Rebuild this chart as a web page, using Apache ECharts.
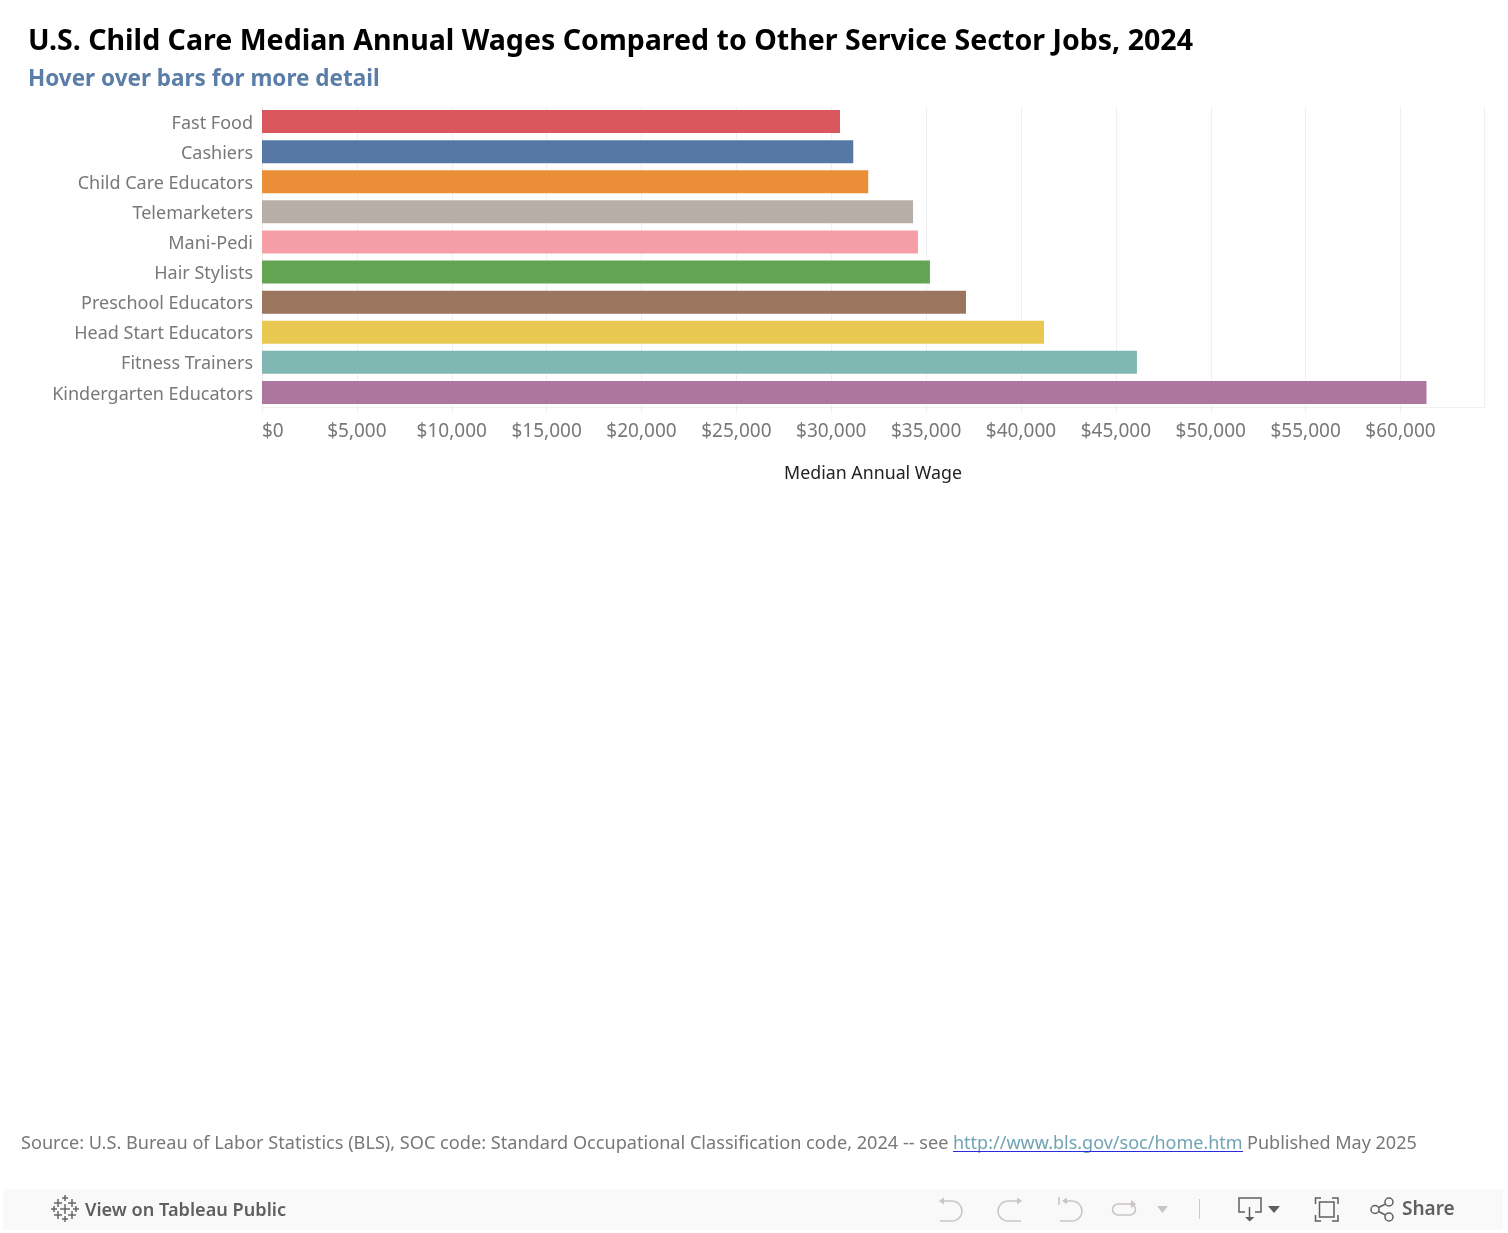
<!DOCTYPE html>
<html><head><meta charset="utf-8">
<style>html,body{margin:0;padding:0;background:#fff}#c{width:1508px;height:1233px}</style>
<script src="https://cdn.jsdelivr.net/npm/echarts@6/dist/echarts.min.js"></script>
</head><body><div id="c"></div>
<script>
const categories=['Fast Food','Cashiers','Child Care Educators','Telemarketers','Mani-Pedi','Hair Stylists','Preschool Educators','Head Start Educators','Fitness Trainers','Kindergarten Educators'];
const wages=[30460,31160,31950,34310,34570,35200,37100,41210,46110,61370];
const barColors=['#d9575d','#5678a4','#ea8f38','#b8aea8','#f69ea8','#63a453','#9b755e','#e9c852','#80b7b2','#ad769e'];
const FONT='"Noto Sans"';
const chart=echarts.init(document.getElementById('c'),null,{renderer:'canvas'});
const iconLight='#cbc4c4',iconDark='#5f5f5f';
const PI=Math.PI;
function pl(points,color,w){return {type:'polyline',shape:{points:points},style:{fill:null,stroke:color,lineWidth:w||1.5},z:10};}
function tri(points,color){return {type:'polygon',shape:{points:points},style:{fill:color},z:10};}
function arc(cx,cy,r,s,e,cw,color){return {type:'arc',shape:{cx:cx,cy:cy,r:r,startAngle:s,endAngle:e,clockwise:cw},style:{fill:null,stroke:color,lineWidth:1.5},z:10};}
function circ(cx,cy,r){return {type:'circle',shape:{cx:cx,cy:cy,r:r},style:{fill:null,stroke:iconDark,lineWidth:1.5},z:10};}
function txt(x,y,t,size,color,weight){return {type:'text',x:x,y:y,style:{text:t,font:(weight||400)+' '+size+'px '+FONT,fill:color,verticalAlign:'middle'},z:10};}
const taPlus=[[65,1198,3],[65,1219,3],[54,1209,3],[76,1209,3],[58,1203,4],[72,1203,4],[58,1215,4],[72,1215,4],[65,1209,5]];
chart.setOption({
 animation:false,
 backgroundColor:'#fff',
 title:[
  {text:'U.S. Child Care Median Annual Wages Compared to Other Service Sector Jobs, 2024',left:28,top:27.5,textStyle:{fontFamily:FONT,fontSize:28.55,fontWeight:700,color:'#000'},padding:0},
  {text:'Hover over bars for more detail',left:28,top:68.5,textStyle:{fontFamily:FONT,fontSize:22.5,fontWeight:700,color:'#5b7ea8'},padding:0}
 ],
 grid:{left:262,top:106.5,width:1222,height:301},
 xAxis:{type:'value',min:0,max:64400,interval:5000,
  axisLine:{show:true,onZero:false,lineStyle:{color:'#f0f0f0',width:1}},
  axisTick:{show:true,length:6,lineStyle:{color:'#f0f0f0',width:1}},
  splitLine:{show:true,lineStyle:{color:'#f0f0f0',width:1}},
  axisLabel:{formatter:v=>'$'+v.toLocaleString('en-US'),color:'#787878',fontFamily:FONT,fontSize:19,margin:14.5,alignMinLabel:'left',showMaxLabel:false},
  name:'Median Annual Wage',nameLocation:'middle',nameGap:57.5,nameTextStyle:{color:'#222',fontFamily:FONT,fontSize:17.8}
 },
 yAxis:{type:'category',data:categories,inverse:true,
  axisLine:{show:true,lineStyle:{color:'#ececec',width:1}},axisTick:{show:false},
  axisLabel:{margin:9,formatter:v=>'{a|'+v+'}',rich:{a:{color:'#787878',fontFamily:FONT,fontSize:18,padding:[4,0,0,0]}}}
 },
 series:[{type:'bar',barWidth:23,data:wages.map((v,i)=>({value:v,itemStyle:{color:barColors[i]}}))}],
 graphic:[
  {type:'rect',shape:{x:3,y:1189,width:1500,height:41},style:{fill:'#f9f9f9'},z:1},
  txt(21,1143.5,'Source: U.S. Bureau of Labor Statistics (BLS), SOC code: Standard Occupational Classification code, 2024 -- see',18.14,'#787878'),
  txt(953,1143.5,'http://www.bls.gov/soc/home.htm',18,'#6fa3b5'),
  {type:'line',shape:{x1:953,y1:1151.5,x2:1243,y2:1151.5},style:{stroke:'#2a2ae0',lineWidth:1},z:11},
  txt(1247,1143.5,'Published May 2025',18.05,'#787878'),
  txt(85,1210.5,'View on Tableau Public',18.15,'#5f5f5f',600),
  txt(1402,1210,'Share',19,'#5f5f5f',600),
  ...taPlus.flatMap(p=>[pl([[p[0]-p[2],p[1]],[p[0]+p[2],p[1]]],iconDark,1.4),pl([[p[0],p[1]-p[2]],[p[0],p[1]+p[2]]],iconDark,1.4)]),
  // undo
  pl([[942,1201],[952,1201]],iconLight),arc(952,1211,10,-PI/2,PI/2,true,iconLight),pl([[952,1221],[940,1221]],iconLight),
  tri([[939,1201],[944,1197.5],[944,1204.5]],iconLight),
  // redo
  pl([[1018,1201],[1008,1201]],iconLight),arc(1008,1211,10,-PI/2,PI/2,false,iconLight),pl([[1008,1221],[1021,1221]],iconLight),
  tri([[1022,1201],[1017,1197.5],[1017,1204.5]],iconLight),
  // revert
  pl([[1059,1197],[1059,1205]],iconLight),
  pl([[1066,1201],[1072,1201]],iconLight),arc(1072,1211,10,-PI/2,PI/2,true,iconLight),pl([[1072,1221],[1060,1221]],iconLight),
  tri([[1062,1201],[1067,1197.5],[1067,1204.5]],iconLight),
  // refresh
  pl([[1118,1204],[1132,1204]],iconLight),arc(1118,1209.5,5.5,-PI/2,PI/2,false,iconLight),pl([[1118,1215],[1130,1215]],iconLight),arc(1130,1209.5,5.5,-PI/2,PI/2,true,iconLight),
  tri([[1136,1204],[1131,1200],[1131,1208]],iconLight),
  tri([[1157,1206],[1168,1206],[1162.5,1213]],iconLight),
  {type:'line',shape:{x1:1199.5,y1:1199,x2:1199.5,y2:1219},style:{stroke:'#cfcaca',lineWidth:1},z:10},
  // download
  pl([[1245,1212],[1239,1212],[1239,1198],[1261,1198],[1261,1212],[1255,1212]],iconDark),
  pl([[1249.5,1207],[1249.5,1218]],iconDark),
  tri([[1245,1217],[1254.5,1217],[1249.7,1221.5]],iconDark),
  tri([[1268,1206],[1280,1206],[1274,1213]],iconDark),
  // fullscreen
  pl([[1315.5,1204],[1315.5,1198],[1321,1198]],iconDark),pl([[1332,1198],[1338,1198],[1338,1204]],iconDark),
  pl([[1338,1215],[1338,1221],[1332,1221]],iconDark),pl([[1321,1221],[1315.5,1221],[1315.5,1215]],iconDark),
  {type:'rect',shape:{x:1319.5,y:1202,width:14.5,height:15},style:{fill:null,stroke:iconDark,lineWidth:1.5},z:10},
  // share
  circ(1375,1209.5,4),circ(1389,1202,4),circ(1389,1217,4),
  pl([[1378.5,1207.5],[1385.5,1204]],iconDark),pl([[1378.5,1211.5],[1385.5,1215]],iconDark)
 ]
});
</script></body></html>
